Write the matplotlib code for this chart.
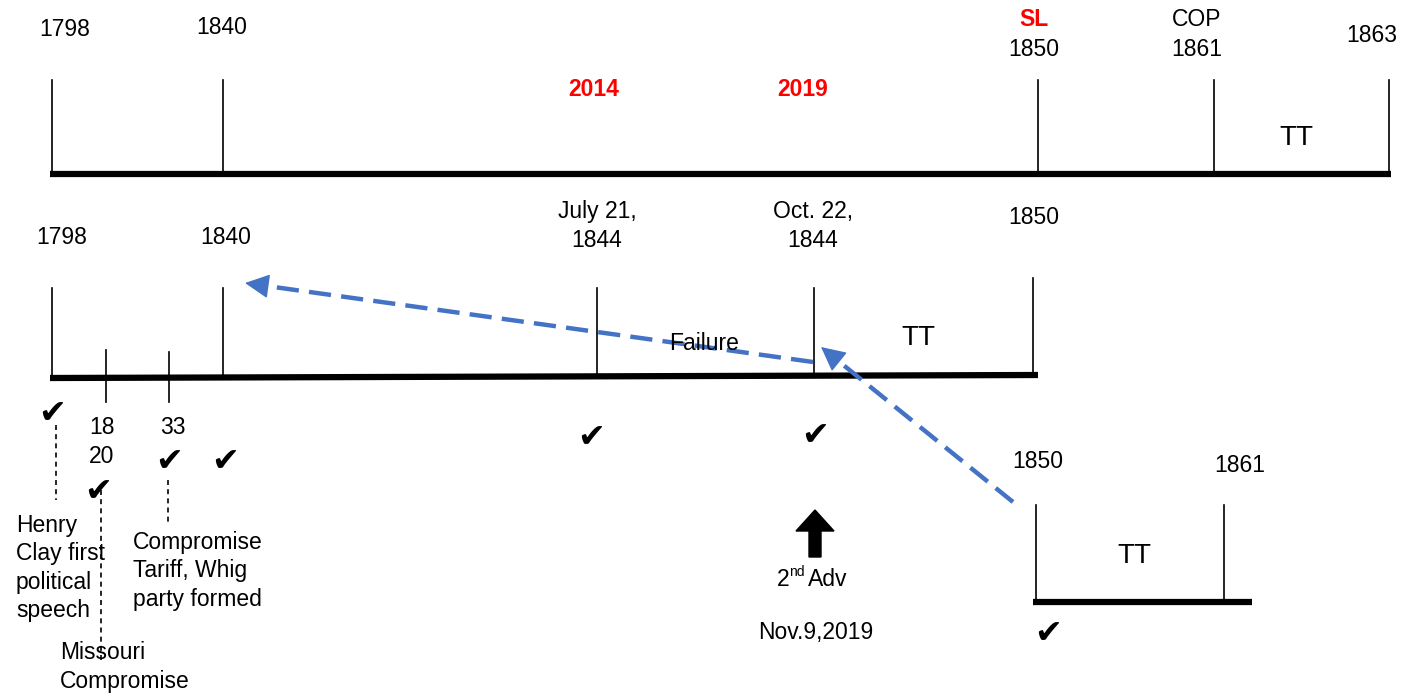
import matplotlib.pyplot as plt
from matplotlib.patches import FancyArrow

plt.rcParams['font.family'] = ['Liberation Sans Narrow', 'Liberation Sans', 'DejaVu Sans']

W, H = 1412, 696

# top timeline
top_x = [52, 223, 1038, 1214, 1389]
top_y = 174
top_labels = [("1798", 65, 30), ("1840", 222, 27), ("1850", 1034, 50),
              ("COP", 1197, 20), ("1861", 1197, 50), ("1863", 1372, 36)]
top_red = [("SL", 1034, 20), ("2014", 594, 89), ("2019", 803, 89)]

# middle timeline
mid_x = [52, 223, 597, 814, 1033]
mid_top = [288, 288, 288, 288, 278]
mid_small_x = [106, 169]
mid_labels = [("1798", 62, 238), ("1840", 226, 238), ("July 21,\n1844", 597, 226),
              ("Oct. 22,\n1844", 813, 226), ("1850", 1034, 218),
              ("18\n20", 102, 442), ("33", 173, 427)]

# bottom timeline
bot_x = [1036, 1224]
bot_labels = [("1850", 1038, 462), ("1861", 1240, 465)]

checks_x = [52, 98, 169, 225, 591, 815, 1048]
checks_y = [413, 492, 462, 462, 438, 436, 633]

notes = [("Henry\nClay first\npolitical\nspeech", 16, 568),
         ("Missouri\nCompromise", 60, 667),
         ("Compromise\nTariff, Whig\nparty formed", 133, 571)]
leaders = [(56, 425, 500), (101, 490, 662), (168, 480, 525)]

# blue "failure" arrows: start -> end
arrows_start = [(813, 362), (1013, 502)]
arrows_end = [(245, 283), (821, 347)]

fig = plt.figure(figsize=(W / 100, H / 100), dpi=100)
ax = fig.add_axes([0, 0, 1, 1])
ax.set_xlim(0, W)
ax.set_ylim(H, 0)
ax.axis('off')

fs = 16.5
# top
ax.plot([50, 1391], [top_y, top_y], color='black', lw=4.5, solid_capstyle='butt')
for x in top_x:
    ax.plot([x, x], [80, top_y], color='black', lw=1.2)
for t, x, y in top_labels:
    ax.text(x, y, t, fontsize=fs, ha='center', va='center')
for t, x, y in top_red:
    ax.text(x, y, t, fontsize=fs, ha='center', va='center', color='red', fontweight='bold')
ax.text(1296, 138, "TT", fontsize=20, ha='center', va='center')

# middle
ax.plot([50, 1038], [378, 375], color='black', lw=4.5, solid_capstyle='butt')
for x, t in zip(mid_x, mid_top):
    ax.plot([x, x], [t, 377], color='black', lw=1.2)
ax.plot([mid_small_x[0]] * 2, [350, 402], color='black', lw=1.2)
ax.plot([mid_small_x[1]] * 2, [352, 402], color='black', lw=1.2)
for t, x, y in mid_labels:
    ax.text(x, y, t, fontsize=fs, ha='center', va='center', linespacing=1.3)
ax.text(918, 338, "TT", fontsize=20, ha='center', va='center')
ax.text(704, 343, "Failure", fontsize=fs, ha='center', va='center')

# bottom
ax.plot([1033, 1252], [602, 602], color='black', lw=4.5, solid_capstyle='butt')
for x in bot_x:
    ax.plot([x, x], [505, 602], color='black', lw=1.2)
for t, x, y in bot_labels:
    ax.text(x, y, t, fontsize=fs, ha='center', va='center')
ax.text(1134, 556, "TT", fontsize=20, ha='center', va='center')

# blue dashed arrows (dashed shaft + solid head)
blue = '#4472C4'
for (x0, y0), (x1, y1) in zip(arrows_start, arrows_end):
    dx, dy = x1 - x0, y1 - y0
    L = (dx ** 2 + dy ** 2) ** 0.5
    ux, uy = dx / L, dy / L
    ax.plot([x0, x1 - ux * 10], [y0, y1 - uy * 10], color=blue, lw=3.2,
            ls=(0, (5, 2.3)), solid_capstyle='butt', dash_capstyle='butt')
    ax.annotate("", xy=(x1, y1), xytext=(x1 - ux * 16, y1 - uy * 16),
                arrowprops=dict(arrowstyle='-|>,head_length=0.7,head_width=0.35', color=blue,
                                lw=1, mutation_scale=22, shrinkA=0, shrinkB=0))

# checkmarks
for x, y in zip(checks_x, checks_y):
    ax.text(x, y, "\u2714", fontsize=24, ha='center', va='center', family='DejaVu Sans')

# leaders and notes
for x, y0, y1 in leaders:
    ax.plot([x, x], [y0, y1], color='black', lw=1.2, ls=(0, (3, 2.5)))
for t, x, y in notes:
    ax.text(x, y, t, fontsize=fs, ha='left', va='center', linespacing=1.3)

# 2nd advent arrow
ax.add_patch(FancyArrow(815, 557, 0, -47, width=12, head_width=38, head_length=21,
                        length_includes_head=True, color='black'))
ax.text(789, 579, "2", fontsize=fs, ha='right', va='center')
ax.text(789, 572, "nd", fontsize=10, ha='left', va='center')
ax.text(808, 579, "Adv", fontsize=fs, ha='left', va='center')
ax.text(816, 632, "Nov.9,2019", fontsize=fs, ha='center', va='center')

fig.savefig('out.png', dpi=100)
